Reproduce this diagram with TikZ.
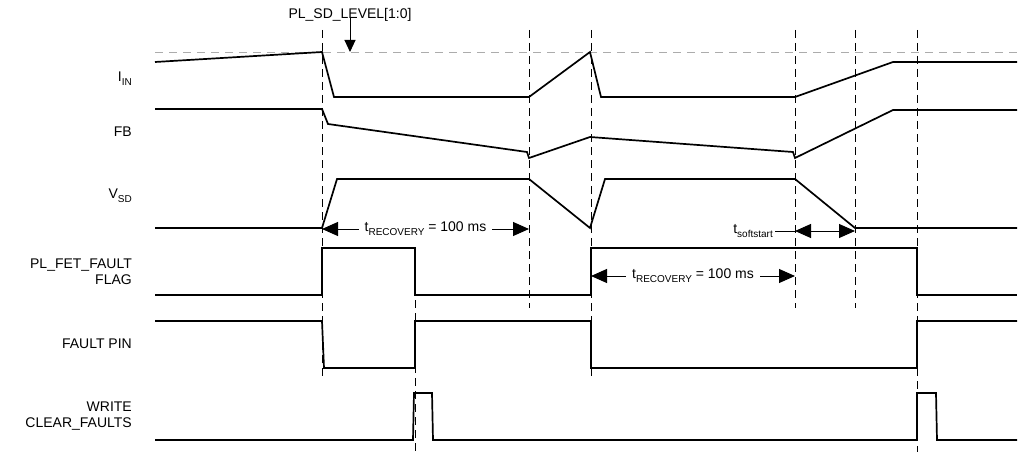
\documentclass[tikz,border=0pt]{standalone}
\usepackage{fontspec}
\setmainfont{Liberation Sans}
\usetikzlibrary{arrows.meta}
\newcommand{\sgsub}[1]{\raisebox{-0.28em}{\fontsize{10}{12}\selectfont #1}}
\tikzset{
  sigline/.style   = {line width=1.7pt,line join=miter},
  markline/.style  = {dash pattern=on 8pt off 5pt,line width=0.9pt},
  levelline/.style = {dash pattern=on 8pt off 6pt,gray!65,line width=0.9pt},
  spanarr/.style   = {{Triangle[length=16pt,width=14pt]}-{Triangle[length=16pt,width=14pt]},line width=1pt},
  txt/.style       = {font=\fontsize{14}{16}\selectfont,inner sep=0pt},
  siglabel/.style  = {txt,anchor=east,align=right}
}

\begin{document}
\begin{tikzpicture}[x=1pt,y=-1pt]
  \useasboundingbox (0,0) rectangle (1021,452);
  % event markers
  \foreach \x/\ya/\yb in {322/30/377,415/248/452,529/30/308,591/30/377,795/30/308,855/30/308,917/30/452}
    \draw[markline] (\x,\ya) -- (\x,\yb);
  % shutdown level
  \draw[levelline] (155,52) -- (1017,52);
  \node[txt] (lblLevel) at (350,15) {PL\_SD\_LEVEL[1:0]};
  \coordinate (lvl) at (350,52);
  \draw[-{Triangle[length=12pt,width=11pt]},line width=1pt] (lblLevel.south) ++(0,-5) -- (lvl);

  % signal names
  \node[siglabel] (lblIin)   at (132,79)  {I\sgsub{IN}};
  \node[siglabel] (lblFb)    at (132,132) {FB};
  \node[siglabel] (lblVsd)   at (132,196) {V\sgsub{SD}};
  \node[siglabel] (lblFlag)  at (132,272) {PL\_FET\_FAULT\\FLAG};
  \node[siglabel] (lblPin)   at (132,344) {FAULT PIN};
  \node[siglabel] (lblWrite) at (132,416) {WRITE\\CLEAR\_FAULTS};

  % waveforms
  \draw[sigline] (155,62) -- (322,52) -- (334,97) -- (529,97) -- (590,52) -- (601,97)
    -- (795,97) -- (893,62) -- (1017,62);
  \draw[sigline] (155,109) -- (322,109) -- (328,124) -- (527,152) -- (529,158) -- (590,137)
    -- (793,152) -- (795,158) -- (893,110) -- (1017,110);
  \draw[sigline] (155,228) -- (322,228) -- (337,179) -- (529,179) -- (590,228) -- (605,179)
    -- (795,179) -- (855,228) -- (1017,228);
  \draw[sigline] (155,295) -- (322,295) -- (322,248) -- (415,248) -- (415,295) -- (591,295)
    -- (591,248) -- (917,248) -- (917,295) -- (1017,295);
  \draw[sigline] (155,321) -- (322,321) -- (324,368) -- (415,368) -- (415,321) -- (591,321)
    -- (591,368) -- (917,368) -- (917,321) -- (1017,321);
  \draw[sigline] (155,440) -- (413,440) -- (414,393) -- (432,393) -- (433,440) -- (917,440)
    -- (917,393) -- (936,393) -- (937,440) -- (1017,440);

  % timing spans
  \coordinate (rec1a) at (322,229);
  \coordinate (rec1b) at (529,229);
  \draw[spanarr] (rec1a) -- (rec1b);
  \node[txt,fill=white,inner xsep=6pt,inner ysep=2pt] (lblRec1) at (425.5,229) {t\sgsub{RECOVERY} = 100 ms};
  \coordinate (rec2a) at (591,276);
  \coordinate (rec2b) at (795,276);
  \draw[spanarr] (rec2a) -- (rec2b);
  \node[txt,fill=white,inner xsep=6pt,inner ysep=2pt] (lblRec2) at (693,276) {t\sgsub{RECOVERY} = 100 ms};
  \coordinate (ss1) at (795,231);
  \coordinate (ss2) at (855,231);
  \node[txt,anchor=east] (lblSoft) at (773,231) {t\sgsub{softstart}};
  \draw[line width=1pt] (lblSoft.east) ++(2,0) -- (ss1);
  \draw[spanarr] (ss1) -- (ss2);
\end{tikzpicture}
\end{document}
